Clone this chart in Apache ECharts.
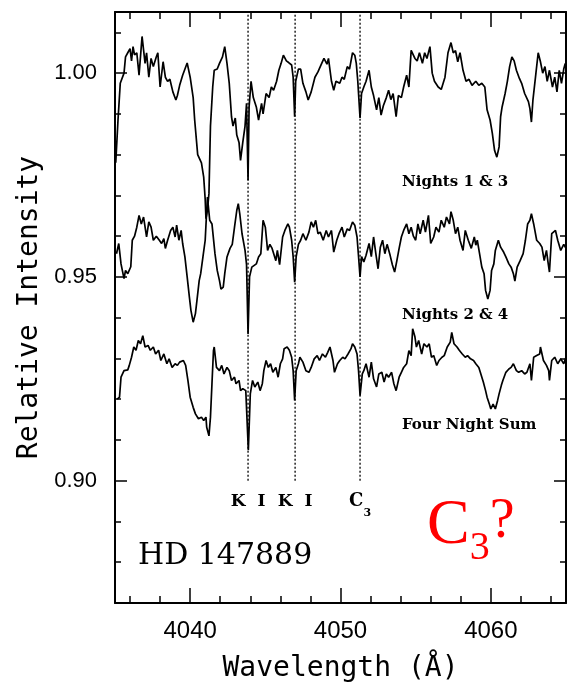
<!DOCTYPE html>
<html>
<head>
<meta charset="utf-8">
<title>HD 147889</title>
<script src="https://cdn.jsdelivr.net/npm/echarts@6/dist/echarts.min.js"></script>
<style>
  html, body { margin: 0; padding: 0; background: #fff; }
  #chart { width: 573px; height: 690px; }
</style>
</head>
<body>
<div id="chart"></div>
<script>
// [wavelength (A), relative intensity]
const nights13 = [
  [4035.05, 0.978], [4035.2, 0.9885], [4035.35, 0.9975], [4035.6, 1.0], [4035.7, 1.004], [4035.85, 1.005],
  [4036.0, 1.006], [4036.1, 1.003], [4036.2, 1.0065], [4036.3, 1.0045], [4036.45, 1.005], [4036.6, 0.9995],
  [4036.8, 1.009], [4037.0, 1.0024], [4037.1, 1.005], [4037.25, 0.999], [4037.4, 1.0036], [4037.55, 1.0016],
  [4037.75, 1.004], [4037.85, 1.005], [4038.0, 0.9966], [4038.2, 1.0028], [4038.35, 0.999], [4038.5, 0.998],
  [4038.65, 0.9985], [4038.85, 0.9954], [4039.05, 0.9934], [4039.15, 0.9945], [4039.3, 0.997], [4039.5, 0.9995],
  [4039.8, 1.0025], [4040.0, 0.999], [4040.2, 0.994], [4040.3, 0.9885], [4040.5, 0.98], [4040.75, 0.978],
  [4040.9, 0.9745], [4041.0, 0.969], [4041.05, 0.9643], [4041.15, 0.9664], [4041.25, 0.9705], [4041.35, 0.987],
  [4041.5, 0.9966], [4041.6, 1.0007], [4041.8, 1.001], [4041.95, 1.0024], [4042.15, 1.004], [4042.3, 1.0065],
  [4042.45, 1.0024], [4042.6, 0.9975], [4042.75, 0.9893], [4042.85, 0.987], [4043.0, 0.989], [4043.1, 0.9848],
  [4043.25, 0.983], [4043.35, 0.9786], [4043.5, 0.983], [4043.65, 0.987], [4043.75, 0.9926], [4043.85, 0.9737],
  [4043.92, 0.9917], [4044.05, 0.998], [4044.2, 0.994], [4044.4, 0.9917], [4044.55, 0.9885], [4044.75, 0.9926],
  [4044.85, 0.99], [4045.05, 0.995], [4045.25, 0.994], [4045.4, 0.9966], [4045.55, 0.9958], [4045.75, 0.998],
  [4045.9, 1.0007], [4046.05, 1.0024], [4046.2, 1.0044], [4046.4, 1.003], [4046.55, 1.0026], [4046.75, 1.002],
  [4046.85, 0.999], [4046.95, 0.9893], [4047.02, 0.998], [4047.2, 1.001], [4047.35, 1.001], [4047.5, 0.9975],
  [4047.7, 0.9954], [4047.85, 0.9934], [4048.05, 0.9954], [4048.3, 0.999], [4048.5, 1.0003], [4048.75, 1.0024],
  [4048.9, 1.0036], [4049.1, 1.0022], [4049.2, 1.0036], [4049.4, 0.998], [4049.55, 0.9958], [4049.7, 0.998],
  [4049.95, 0.9975], [4050.1, 0.999], [4050.25, 0.9985], [4050.45, 1.0016], [4050.6, 1.001], [4050.8, 1.005],
  [4050.95, 1.0044], [4051.05, 1.0024], [4051.15, 0.998], [4051.3, 0.989], [4051.4, 0.995], [4051.55, 0.9966],
  [4051.7, 0.998], [4051.9, 1.0007], [4052.05, 0.9966], [4052.2, 0.9945], [4052.4, 0.991], [4052.55, 0.994],
  [4052.7, 0.9897], [4052.85, 0.992], [4053.05, 0.994], [4053.2, 0.9958], [4053.35, 0.9935], [4053.5, 0.995],
  [4053.7, 0.9893], [4053.85, 0.9945], [4054.05, 0.994], [4054.2, 0.9966], [4054.4, 0.9995], [4054.55, 0.9966],
  [4054.7, 1.0056], [4054.95, 1.0036], [4055.1, 1.003], [4055.25, 1.005], [4055.45, 1.0024], [4055.6, 1.005],
  [4055.75, 1.0036], [4055.95, 1.0065], [4056.1, 1.0], [4056.25, 0.998], [4056.5, 0.9966], [4056.7, 0.996],
  [4056.95, 0.999], [4057.15, 1.005], [4057.35, 1.0075], [4057.5, 1.005], [4057.65, 1.0055], [4057.8, 1.0028],
  [4057.95, 1.005], [4058.15, 1.0007], [4058.35, 0.998], [4058.55, 0.9985], [4058.75, 0.997], [4059.0, 0.998],
  [4059.2, 0.997], [4059.4, 0.9975], [4059.6, 0.9966], [4059.75, 0.991], [4059.95, 0.9885], [4060.1, 0.9852],
  [4060.25, 0.981], [4060.4, 0.9794], [4060.55, 0.9819], [4060.65, 0.9893], [4060.75, 0.9917], [4060.95, 0.995],
  [4061.1, 0.998], [4061.25, 1.0016], [4061.4, 1.004], [4061.55, 1.003], [4061.7, 1.0007], [4061.9, 0.9987],
  [4062.05, 0.9975], [4062.25, 0.995], [4062.5, 0.993], [4062.6, 0.9913], [4062.7, 0.988], [4062.8, 0.9934],
  [4063.0, 1.0], [4063.15, 1.005], [4063.3, 1.0028], [4063.45, 1.0], [4063.6, 1.0016], [4063.75, 0.998],
  [4063.9, 1.0007], [4064.1, 0.9966], [4064.25, 0.999], [4064.4, 0.9954], [4064.55, 1.0007], [4064.7, 0.9975],
  [4064.85, 1.001], [4064.95, 1.0024]
];

const nights24 = [
  [4035.1, 0.9557], [4035.25, 0.9582], [4035.4, 0.9532], [4035.6, 0.9496], [4035.7, 0.9516], [4035.85, 0.9508],
  [4036.05, 0.9525], [4036.15, 0.959], [4036.3, 0.96], [4036.45, 0.9622], [4036.6, 0.9651], [4036.75, 0.963],
  [4036.9, 0.9647], [4037.1, 0.9598], [4037.25, 0.9635], [4037.4, 0.9622], [4037.55, 0.959], [4037.75, 0.96],
  [4037.95, 0.959], [4038.1, 0.9582], [4038.25, 0.9594], [4038.35, 0.957], [4038.5, 0.959], [4038.7, 0.9614],
  [4038.85, 0.9622], [4039.0, 0.9598], [4039.1, 0.9627], [4039.25, 0.959], [4039.4, 0.9614], [4039.5, 0.9582],
  [4039.65, 0.9549], [4039.8, 0.95], [4039.95, 0.945], [4040.05, 0.9418], [4040.2, 0.9389], [4040.35, 0.941],
  [4040.45, 0.9442], [4040.6, 0.9491], [4040.7, 0.9508], [4040.85, 0.9549], [4041.0, 0.959], [4041.1, 0.9663],
  [4041.15, 0.9696], [4041.3, 0.9639], [4041.45, 0.963], [4041.65, 0.9557], [4041.8, 0.9516], [4041.95, 0.9491],
  [4042.05, 0.947], [4042.2, 0.9475], [4042.3, 0.9508], [4042.45, 0.9549], [4042.65, 0.957], [4042.8, 0.958],
  [4042.95, 0.9622], [4043.1, 0.9663], [4043.2, 0.968], [4043.3, 0.9655], [4043.45, 0.9606], [4043.65, 0.9565],
  [4043.75, 0.953], [4043.85, 0.936], [4043.95, 0.95], [4044.1, 0.9524], [4044.2, 0.952], [4044.4, 0.9532],
  [4044.55, 0.9549], [4044.7, 0.9557], [4044.85, 0.9639], [4045.0, 0.9622], [4045.15, 0.9565], [4045.3, 0.958],
  [4045.45, 0.957], [4045.7, 0.954], [4045.8, 0.9565], [4045.95, 0.953], [4046.15, 0.9598], [4046.3, 0.9614],
  [4046.5, 0.963], [4046.6, 0.9622], [4046.75, 0.959], [4046.85, 0.955], [4046.95, 0.9487], [4047.05, 0.9549],
  [4047.2, 0.958], [4047.35, 0.959], [4047.5, 0.9606], [4047.7, 0.959], [4047.9, 0.961], [4048.05, 0.9635],
  [4048.2, 0.9622], [4048.35, 0.9639], [4048.5, 0.9606], [4048.65, 0.961], [4048.85, 0.959], [4049.05, 0.9614],
  [4049.2, 0.9598], [4049.4, 0.9614], [4049.55, 0.9561], [4049.75, 0.959], [4049.9, 0.9606], [4050.1, 0.9622],
  [4050.25, 0.9598], [4050.45, 0.9618], [4050.6, 0.9614], [4050.8, 0.9635], [4050.95, 0.9627], [4051.1, 0.9598],
  [4051.2, 0.955], [4051.3, 0.95], [4051.4, 0.955], [4051.55, 0.9537], [4051.7, 0.9553], [4051.9, 0.9582],
  [4052.05, 0.955], [4052.2, 0.9598], [4052.35, 0.9557], [4052.5, 0.952], [4052.65, 0.9573], [4052.8, 0.959],
  [4052.95, 0.9557], [4053.1, 0.958], [4053.3, 0.9553], [4053.45, 0.953], [4053.6, 0.9512], [4053.75, 0.954],
  [4053.9, 0.957], [4054.05, 0.9598], [4054.2, 0.9614], [4054.4, 0.963], [4054.55, 0.9606], [4054.7, 0.9622],
  [4054.85, 0.96], [4055.0, 0.959], [4055.15, 0.963], [4055.3, 0.9606], [4055.5, 0.9639], [4055.65, 0.961],
  [4055.85, 0.9651], [4056.0, 0.9582], [4056.2, 0.9598], [4056.35, 0.9622], [4056.55, 0.961], [4056.7, 0.9639],
  [4056.9, 0.9622], [4057.05, 0.9647], [4057.25, 0.963], [4057.35, 0.966], [4057.5, 0.9639], [4057.65, 0.9606],
  [4057.8, 0.9622], [4057.95, 0.959], [4058.15, 0.9565], [4058.3, 0.9614], [4058.5, 0.959], [4058.7, 0.957],
  [4058.9, 0.9598], [4059.0, 0.9578], [4059.1, 0.959], [4059.25, 0.9557], [4059.4, 0.9524], [4059.55, 0.9508],
  [4059.65, 0.9467], [4059.8, 0.9446], [4059.95, 0.9467], [4060.05, 0.9516], [4060.2, 0.9532], [4060.3, 0.9565],
  [4060.5, 0.959], [4060.65, 0.9573], [4060.85, 0.9561], [4061.0, 0.9549], [4061.2, 0.9532], [4061.35, 0.9524],
  [4061.5, 0.9508], [4061.6, 0.949], [4061.75, 0.9524], [4061.95, 0.954], [4062.15, 0.9557], [4062.3, 0.959],
  [4062.45, 0.963], [4062.6, 0.9639], [4062.7, 0.9655], [4062.85, 0.963], [4063.05, 0.959], [4063.25, 0.9582],
  [4063.4, 0.9573], [4063.55, 0.954], [4063.7, 0.9565], [4063.8, 0.9537], [4063.9, 0.9512], [4064.05, 0.9606],
  [4064.3, 0.9614], [4064.45, 0.959], [4064.65, 0.9565], [4064.85, 0.958], [4065.0, 0.957]
];

const fourNightSum = [
  [4035.15, 0.92], [4035.3, 0.9205], [4035.4, 0.9254], [4035.6, 0.927], [4035.85, 0.9272], [4035.95, 0.9283],
  [4036.1, 0.9303], [4036.25, 0.9328], [4036.4, 0.932], [4036.55, 0.9344], [4036.7, 0.9336], [4036.85, 0.9356],
  [4037.0, 0.9328], [4037.2, 0.9332], [4037.35, 0.932], [4037.55, 0.9328], [4037.7, 0.9311], [4037.9, 0.932],
  [4038.05, 0.9295], [4038.25, 0.9311], [4038.45, 0.9287], [4038.6, 0.9299], [4038.8, 0.9278], [4039.0, 0.9287],
  [4039.15, 0.9283], [4039.3, 0.9291], [4039.55, 0.9295], [4039.7, 0.9283], [4039.85, 0.9246], [4040.0, 0.9205],
  [4040.2, 0.918], [4040.35, 0.9164], [4040.55, 0.9152], [4040.75, 0.9156], [4040.9, 0.9148], [4041.05, 0.9156],
  [4041.1, 0.9131], [4041.25, 0.911], [4041.35, 0.9156], [4041.45, 0.9238], [4041.55, 0.9319], [4041.6, 0.9328],
  [4041.75, 0.9278], [4041.95, 0.927], [4042.1, 0.9283], [4042.25, 0.9262], [4042.45, 0.9278], [4042.6, 0.927],
  [4042.75, 0.9246], [4042.95, 0.9254], [4043.05, 0.9238], [4043.25, 0.9246], [4043.35, 0.9221], [4043.5, 0.9226],
  [4043.7, 0.9221], [4043.8, 0.922], [4043.87, 0.9075], [4044.0, 0.9213], [4044.15, 0.9246], [4044.3, 0.923],
  [4044.5, 0.9242], [4044.65, 0.9221], [4044.8, 0.9238], [4044.9, 0.927], [4045.05, 0.9295], [4045.2, 0.9278],
  [4045.35, 0.9287], [4045.5, 0.9266], [4045.7, 0.9278], [4045.85, 0.9254], [4046.0, 0.9287], [4046.15, 0.9299],
  [4046.25, 0.9324], [4046.45, 0.9328], [4046.6, 0.932], [4046.75, 0.9303], [4046.85, 0.927], [4046.95, 0.9197],
  [4047.05, 0.927], [4047.2, 0.9287], [4047.3, 0.9303], [4047.5, 0.9291], [4047.7, 0.927], [4047.9, 0.9266],
  [4048.05, 0.9278], [4048.25, 0.9299], [4048.45, 0.9307], [4048.6, 0.9295], [4048.8, 0.9311], [4049.0, 0.9303],
  [4049.15, 0.9315], [4049.3, 0.9328], [4049.5, 0.9295], [4049.6, 0.9266], [4049.8, 0.9287], [4049.95, 0.9295],
  [4050.15, 0.9303], [4050.3, 0.9299], [4050.5, 0.9311], [4050.7, 0.9324], [4050.8, 0.9336], [4050.95, 0.9328],
  [4051.1, 0.9311], [4051.2, 0.927], [4051.3, 0.9209], [4051.45, 0.9262], [4051.55, 0.927], [4051.7, 0.9287],
  [4051.9, 0.9254], [4052.05, 0.9291], [4052.2, 0.925], [4052.4, 0.923], [4052.55, 0.9262], [4052.75, 0.9266],
  [4052.9, 0.9242], [4053.05, 0.9262], [4053.2, 0.9254], [4053.4, 0.9266], [4053.55, 0.9238], [4053.7, 0.9221],
  [4053.9, 0.9254], [4054.05, 0.9266], [4054.2, 0.9278], [4054.4, 0.9287], [4054.55, 0.9319], [4054.7, 0.9307],
  [4054.8, 0.9373], [4054.95, 0.9353], [4055.05, 0.9328], [4055.2, 0.9344], [4055.4, 0.9311], [4055.55, 0.9336],
  [4055.75, 0.9328], [4055.9, 0.9336], [4056.05, 0.9303], [4056.2, 0.9307], [4056.4, 0.9283], [4056.55, 0.9295],
  [4056.75, 0.9303], [4056.9, 0.9307], [4057.1, 0.9328], [4057.3, 0.934], [4057.4, 0.9364], [4057.55, 0.9336],
  [4057.75, 0.9328], [4057.9, 0.932], [4058.1, 0.9311], [4058.3, 0.9303], [4058.45, 0.9307], [4058.65, 0.9299],
  [4058.85, 0.9295], [4059.0, 0.9287], [4059.2, 0.9278], [4059.3, 0.9266], [4059.5, 0.9242], [4059.65, 0.9221],
  [4059.75, 0.9205], [4059.9, 0.9188], [4060.0, 0.9176], [4060.15, 0.9188], [4060.3, 0.9176], [4060.45, 0.9197],
  [4060.55, 0.9213], [4060.7, 0.9234], [4060.8, 0.9246], [4061.0, 0.9266], [4061.2, 0.9274], [4061.35, 0.9278],
  [4061.5, 0.9287], [4061.7, 0.927], [4061.85, 0.9266], [4062.05, 0.927], [4062.25, 0.9262], [4062.4, 0.9266],
  [4062.6, 0.9287], [4062.7, 0.9246], [4062.85, 0.9303], [4063.05, 0.9307], [4063.25, 0.9311], [4063.3, 0.9328],
  [4063.5, 0.9295], [4063.7, 0.9283], [4063.85, 0.927], [4063.9, 0.9246], [4064.05, 0.9295], [4064.25, 0.9303],
  [4064.45, 0.9287], [4064.65, 0.9299], [4064.85, 0.9287], [4065.0, 0.9303]
];

// identified lines: K I, K I, C3
const lineWavelengths = [4043.85, 4046.98, 4051.3];
const lineNames = ["K  I", "K  I", "{c|C}{s|3}"];
const lineTop = 1.015;
const lineBottom = 0.9;

const xRange = [4035, 4065];
const yRange = [0.87, 1.015];
const xTickLabels = [4040, 4050, 4060];
const yTickLabels = [0.9, 0.95, 1.0];

const serif = "DejaVu Serif";
const mono = "DejaVu Sans Mono";
const tickFont = "Liberation Sans";

function spectrumSeries(name, data) {
  return {
    name,
    type: "line",
    data,
    showSymbol: false,
    silent: true,
    lineStyle: { color: "#000", width: 1.7 },
  };
}

function markerSeries(wavelength, label) {
  const labelStyle = { fontFamily: serif, fontWeight: "bold", color: "#000" };
  return {
    type: "line",
    data: [
      {
        value: [wavelength, lineBottom],
        label: {
          show: true,
          position: "bottom",
          distance: 12,
          formatter: label,
          fontSize: 17,
          ...labelStyle,
          rich: {
            c: { ...labelStyle, fontSize: 18, lineHeight: 20, verticalAlign: "top" },
            s: { ...labelStyle, fontSize: 11, lineHeight: 26, verticalAlign: "bottom" },
          },
        },
      },
      [wavelength, lineTop],
    ],
    symbol: "circle",
    symbolSize: 0,
    showSymbol: true,
    silent: true,
    lineStyle: { color: "#000", width: 1.3, type: [2, 2] },
  };
}

function isOneOf(v, list) {
  return list.some((t) => Math.abs(v - t) < 1e-6);
}

const axisLine = { show: true, onZero: false, lineStyle: { color: "#000", width: 2 } };

function xAxisSide(position) {
  return {
    type: "value",
    min: xRange[0],
    max: xRange[1],
    splitNumber: 3,
    position,
    axisLine,
    axisTick: { inside: true, length: 15, lineStyle: { color: "#000", width: 1.5 } },
    minorTick: { show: true, splitNumber: 5, length: 7, lineStyle: { color: "#000", width: 1.5 } },
    splitLine: { show: false },
    axisLabel: { show: false },
  };
}

function yAxisSide(position) {
  return {
    type: "value",
    min: yRange[0],
    max: yRange[1],
    splitNumber: 3,
    position,
    axisLine,
    axisTick: { inside: true, length: 12, lineStyle: { color: "#000", width: 1.5 } },
    minorTick: { show: true, splitNumber: 5, length: 6, lineStyle: { color: "#000", width: 1.5 } },
    splitLine: { show: false },
    axisLabel: { show: false },
  };
}

const chart = echarts.init(document.getElementById("chart"));

const option = {
  animation: false,
  backgroundColor: "#fff",
  grid: { left: 115, right: 7, top: 12, bottom: 87 },
  xAxis: [
    {
      ...xAxisSide("bottom"),
      axisLabel: {
        margin: 16,
        color: "#000",
        fontFamily: tickFont,
        fontSize: 24,
        formatter: (v) => (isOneOf(v, xTickLabels) ? String(Math.round(v)) : ""),
      },
      name: "Wavelength (Å)",
      nameLocation: "middle",
      nameGap: 52,
      nameTextStyle: { color: "#000", fontFamily: mono, fontSize: 28 },
    },
    xAxisSide("top"),
  ],
  yAxis: [
    {
      ...yAxisSide("left"),
      axisLabel: {
        margin: 18,
        color: "#000",
        fontFamily: tickFont,
        fontSize: 22,
        formatter: (v) => (isOneOf(v, yTickLabels) ? v.toFixed(2) : ""),
      },
      name: "Relative Intensity",
      nameLocation: "middle",
      nameGap: 64,
      nameRotate: 90,
      nameTextStyle: { color: "#000", fontFamily: mono, fontSize: 28 },
    },
    yAxisSide("right"),
  ],
  series: [
    spectrumSeries("Nights 1 & 3", nights13),
    spectrumSeries("Nights 2 & 4", nights24),
    spectrumSeries("Four Night Sum", fourNightSum),
    ...lineWavelengths.map((w, i) => markerSeries(w, lineNames[i])),
  ],
  graphic: [
    { type: "text", left: 402, top: 175, style: { text: "Nights 1 & 3", font: "bold 15px " + serif, fill: "#000" } },
    { type: "text", left: 402, top: 308, style: { text: "Nights 2 & 4", font: "bold 15px " + serif, fill: "#000" } },
    { type: "text", left: 402, top: 418, style: { text: "Four Night Sum", font: "bold 15px " + serif, fill: "#000" } },
    { type: "text", left: 138, top: 541, style: { text: "HD 147889", font: "30px " + serif, fill: "#000" } },
    {
      type: "text",
      left: 427,
      top: 494,
      style: {
        text: "{c|C}{s|3}{q|?}",
        fill: "#f00",
        rich: {
          c: { fontFamily: "Liberation Serif", fontSize: 64, lineHeight: 60, verticalAlign: "top", color: "#f00" },
          s: { fontFamily: "Liberation Serif", fontSize: 40, lineHeight: 74, verticalAlign: "bottom", color: "#f00" },
          q: { fontFamily: "Liberation Serif", fontSize: 56, lineHeight: 60, verticalAlign: "top", color: "#f00" },
        },
      },
    },
  ],
};

chart.setOption(option);
</script>
</body>
</html>
